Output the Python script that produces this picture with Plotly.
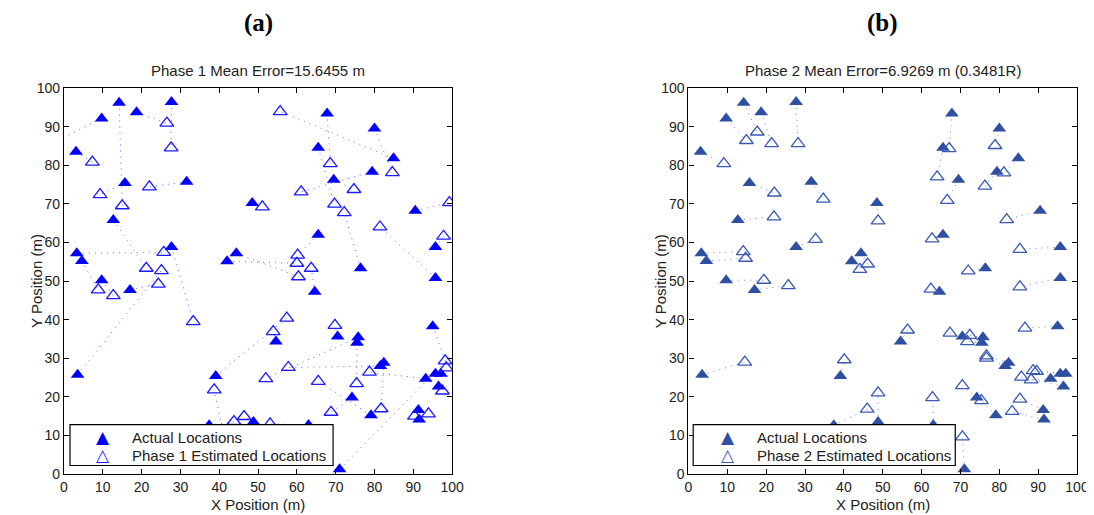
import plotly.graph_objects as go

# Actual node locations (same in both phases)
actual_x = [14.2, 27.7, 18.7, 9.7, 3.1, 15.7, 31.6, 48.5, 12.7, 3.3, 4.6, 27.7, 42.0, 44.4, 9.7, 17.0, 3.5,
            39.1, 48.8, 37.4, 63.0, 54.6, 64.6, 65.5, 65.5, 67.8, 69.5, 80.0, 84.9, 79.4, 76.4, 90.5, 95.7,
            95.7, 70.5, 75.8, 75.5, 74.2, 82.4, 81.5, 79.1, 95.0, 93.2, 95.7, 97.1, 96.5, 91.3, 91.5, 71.0, 41.5]
actual_y = [96.2, 96.4, 93.7, 92.1, 83.5, 75.4, 75.7, 70.2, 65.8, 57.2, 55.2, 58.8, 55.1, 57.2, 50.2, 47.7, 25.7,
            25.4, 13.5, 12.6, 12.7, 34.3, 47.2, 62.0, 84.5, 93.4, 76.2, 89.5, 81.8, 78.3, 53.3, 68.2, 58.8,
            50.8, 35.6, 35.4, 34.0, 19.8, 28.8, 28.0, 15.2, 38.3, 24.7, 26.0, 26.0, 22.7, 16.6, 14.1, 1.2, 8.0]

# Phase 1 estimates (paired with actual nodes in order)
est1_x = [15.0, 27.6, 26.5, -3.0, 7.3, 9.3, 22.0, 51.1, 21.2, 25.7, 8.8, 33.3, 60.0, 60.4, 12.7, 24.3, 25.1,
          57.4, 46.4, 43.8, 53.1, 53.9, 63.7, 60.2, 69.7, 68.6, 74.7, 84.6, 55.7, 61.1, 72.2, 99.3, 97.8,
          81.4, 69.8, 52.0, 75.4, 68.8, 81.7, 57.8, 65.5, 98.2, 78.7, 98.5, 103.0, 97.5, 93.9, 90.3, 104.0, 38.7]
est1_y = [69.5, 84.5, 90.9, 85.7, 80.8, 72.4, 74.4, 69.2, 53.3, 57.4, 47.7, 39.5, 54.6, 51.1, 46.2, 49.2, 52.7,
          40.4, 14.9, 13.6, 13.0, 36.9, 53.3, 56.7, 69.9, 80.4, 73.7, 78.1, 93.9, 73.1, 67.7, 70.3, 61.6,
          64.0, 38.5, 24.7, 23.4, 16.0, 16.9, 27.6, 24.0, 29.3, 26.4, 27.5, 24.0, 21.5, 15.6, 15.0, 35.0, 21.8]

# Phase 2 estimates (paired with actual nodes in order)
est2_x = [17.7, 28.2, 21.4, 14.9, 9.1, 22.1, 34.7, 48.8, 22.0, 14.1, 14.7, 32.7, 44.1, 46.1, 19.4, 25.7, 14.5,
          40.1, 48.8, 46.0, 62.8, 56.4, 62.4, 62.7, 64.0, 67.1, 66.6, 78.9, 81.2, 76.3, 72.0, 81.9, 85.3,
          85.3, 67.3, 72.4, 71.8, 70.5, 76.7, 76.7, 75.4, 86.6, 88.2, 89.6, 88.7, 85.7, 85.3, 83.3, 70.5, 40.5]
est2_y = [88.6, 85.6, 85.6, 86.4, 80.4, 72.8, 71.2, 65.6, 66.6, 57.6, 55.9, 60.8, 53.0, 54.4, 50.2, 48.8, 29.0,
          29.6, 21.0, 16.8, 19.8, 37.3, 47.9, 60.9, 77.0, 84.3, 70.9, 85.1, 78.0, 74.6, 52.6, 65.9, 58.2,
          48.5, 36.5, 35.9, 34.3, 22.9, 30.6, 30.0, 19.0, 37.8, 24.4, 26.6, 26.8, 25.1, 19.4, 16.2, 9.6, 9.5]

ticks = [0, 10, 20, 30, 40, 50, 60, 70, 80, 90, 100]
titles = ["Phase 1 Mean Error=15.6455 m", "Phase 2 Mean Error=6.9269 m (0.3481R)"]
panel_labels = ["(a)", "(b)"]
legend_names = [("Actual Locations", "Phase 1 Estimated Locations"),
                ("Actual Locations", "Phase 2 Estimated Locations")]


def pair_lines(ex, ey):
    lx, ly = [], []
    for ax_, ay_, bx_, by_ in zip(actual_x, actual_y, ex, ey):
        lx += [ax_, bx_, None]
        ly += [ay_, by_, None]
    return lx, ly


OFF = 8  # page body margin in the browser
W, H = 1094 - OFF, 515 - OFF
L1, R1, L2, R2, TOP, BOT = 64 - OFF, 452 - OFF, 688.3 - OFF, 1076.7 - OFF, 87.5 - OFF, 474.5 - OFF
ML, MR, MT, MB = L1, W - R2, TOP, H - BOT
PW, PH = W - ML - MR, H - MT - MB


def px(xp):
    return (xp - OFF - ML) / PW


def py(yp):
    return (H - MB - (yp - OFF)) / PH


fig = go.Figure()
styles = [
    dict(fill="#0000ff", open="#1a1aff", line="rgba(60,60,255,0.8)"),
    dict(fill="#2f4fa3", open="#3a5ab2", line="rgba(60,90,190,0.75)"),
]
ests = [(est1_x, est1_y), (est2_x, est2_y)]
for i in range(2):
    xa = "x" if i == 0 else "x2"
    ya = "y" if i == 0 else "y2"
    lx, ly = pair_lines(*ests[i])
    fig.add_trace(go.Scatter(x=lx, y=ly, mode="lines", xaxis=xa, yaxis=ya,
                             line=dict(color=styles[i]["line"], width=1, dash="1px,5px"),
                             showlegend=False, hoverinfo="skip"))
    fig.add_trace(go.Scatter(x=actual_x, y=actual_y, mode="markers", xaxis=xa, yaxis=ya,
                             name=legend_names[i][0], showlegend=False,
                             marker=dict(symbol="triangle-up", size=12, color=styles[i]["fill"],
                                         line=dict(width=0))))
    fig.add_trace(go.Scatter(x=ests[i][0], y=ests[i][1], mode="markers", xaxis=xa, yaxis=ya,
                             name=legend_names[i][1], showlegend=False,
                             marker=dict(symbol="triangle-up-open", size=12, color=styles[i]["open"],
                                         line=dict(width=1.3))))

FONT = "Liberation Sans"
axis_common = dict(range=[0, 100], tickvals=ticks, ticks="inside", ticklen=5, tickcolor="black",
                   showline=True, linecolor="black", linewidth=1.2, mirror="ticks", showgrid=False,
                   zeroline=False, automargin=False,
                   tickfont=dict(family=FONT, size=14, color="#222"))
fig.update_layout(
    width=W, height=H, margin=dict(l=ML, r=MR, t=MT, b=MB, autoexpand=False),
    plot_bgcolor="white", paper_bgcolor="white", showlegend=False,
    xaxis=dict(domain=[0, (R1 - L1) / PW], anchor="y", **axis_common),
    yaxis=dict(domain=[0, 1], anchor="x", **axis_common),
    xaxis2=dict(domain=[(L2 - L1) / PW, 1], anchor="y2", **axis_common),
    yaxis2=dict(domain=[0, 1], anchor="x2", **axis_common),
)

centers = [(64 + 452) / 2, (688.3 + 1076.7) / 2]
yt_x = [36, 660]
leg_box = [(70, 333), (693, 955)]
leg_sym = [103, 728]
leg_txt = [130, 755]
for i in range(2):
    common = dict(xref="paper", yref="paper", showarrow=False, xanchor="center", yanchor="middle")
    fig.add_annotation(x=px(centers[i]), y=py(22), text="<b>" + panel_labels[i] + "</b>",
                       font=dict(family="Liberation Serif", size=25, color="black"), **common)
    fig.add_annotation(x=px(centers[i]), y=py(70), text=titles[i],
                       font=dict(family=FONT, size=15, color="#222"), **common)
    fig.add_annotation(x=px(centers[i]), y=py(505), text="X Position (m)",
                       font=dict(family=FONT, size=15, color="#222"), **common)
    fig.add_annotation(x=px(yt_x[i]), y=py(281), text="Y Position (m)", textangle=-90,
                       font=dict(family=FONT, size=15, color="#222"), **common)
    # legend box (drawn above the markers, opaque)
    fig.add_shape(type="rect", xref="paper", yref="paper", layer="above",
                  x0=px(leg_box[i][0]), x1=px(leg_box[i][1]), y0=py(466), y1=py(425),
                  fillcolor="white", line=dict(color="black", width=1.2))
    for row, (glyph, col, label) in enumerate([("▲", styles[i]["fill"], legend_names[i][0]),
                                               ("△", styles[i]["open"], legend_names[i][1])]):
        yy = py(437.5 + 18 * row)
        fig.add_annotation(x=px(leg_sym[i]), y=yy, text=glyph, xref="paper", yref="paper",
                           showarrow=False, xanchor="center", yanchor="middle",
                           font=dict(family="DejaVu Sans", size=17, color=col))
        fig.add_annotation(x=px(leg_txt[i]), y=yy, text=label, xref="paper", yref="paper",
                           showarrow=False, xanchor="left", yanchor="middle",
                           font=dict(family=FONT, size=15, color="#222"))

fig.write_html("out.html")
